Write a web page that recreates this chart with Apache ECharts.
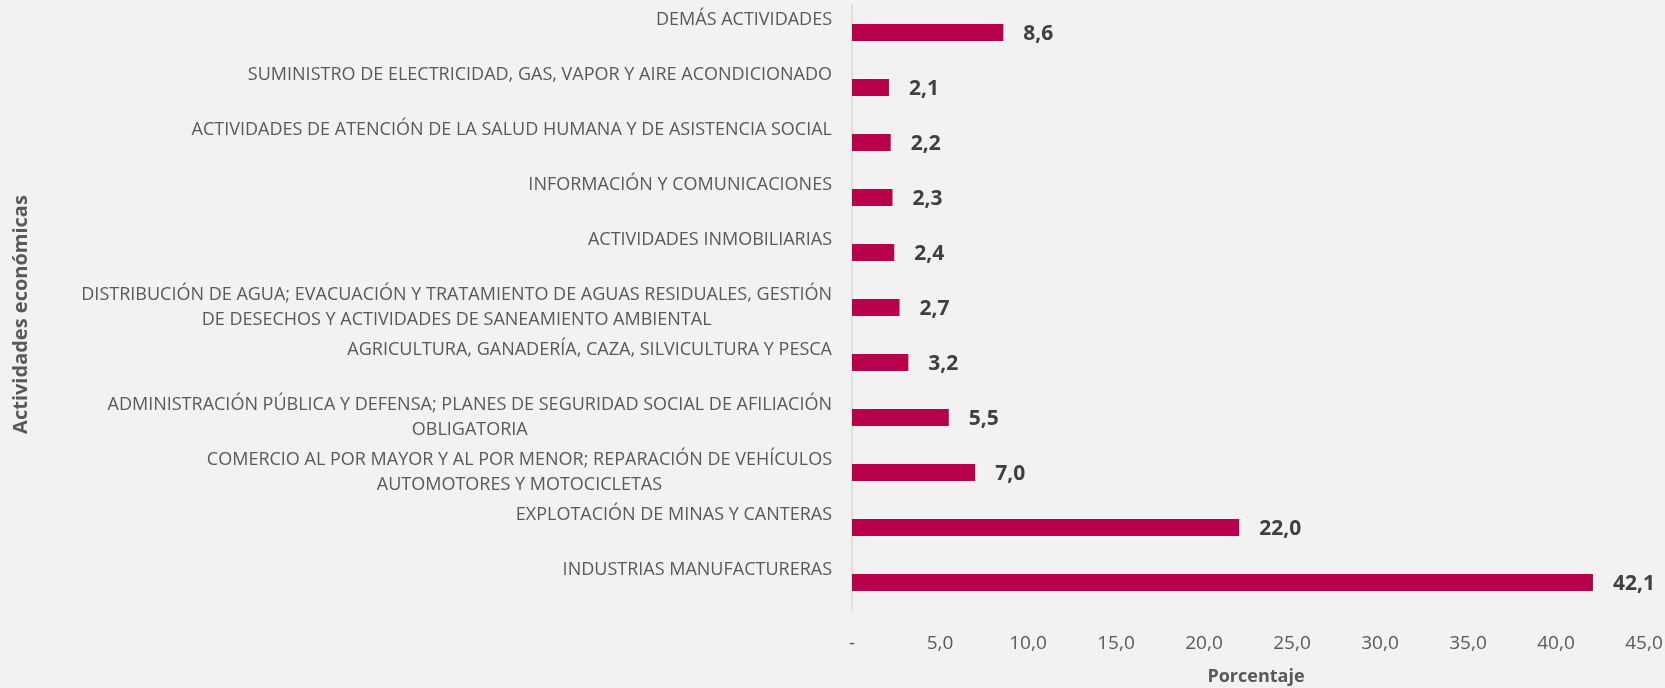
<!DOCTYPE html>
<html>
<head>
<meta charset="utf-8">
<script src="https://cdn.jsdelivr.net/npm/echarts@6/dist/echarts.min.js"></script>
<style>
  html, body { margin: 0; padding: 0; background: #f2f2f2; }
  #chart { width: 1665px; height: 688px; }
</style>
</head>
<body>
<div id="chart"></div>
<script>
// categories from top to bottom
var categories = [
  'DEMÁS ACTIVIDADES',
  'SUMINISTRO DE ELECTRICIDAD, GAS, VAPOR Y AIRE ACONDICIONADO',
  'ACTIVIDADES DE ATENCIÓN DE LA SALUD HUMANA Y DE ASISTENCIA SOCIAL',
  'INFORMACIÓN Y COMUNICACIONES',
  'ACTIVIDADES INMOBILIARIAS',
  'DISTRIBUCIÓN DE AGUA; EVACUACIÓN Y TRATAMIENTO DE AGUAS RESIDUALES, GESTIÓN\nDE DESECHOS Y ACTIVIDADES DE SANEAMIENTO AMBIENTAL',
  'AGRICULTURA, GANADERÍA, CAZA, SILVICULTURA Y PESCA',
  'ADMINISTRACIÓN PÚBLICA Y DEFENSA; PLANES DE SEGURIDAD SOCIAL DE AFILIACIÓN\nOBLIGATORIA',
  'COMERCIO AL POR MAYOR Y AL POR MENOR; REPARACIÓN DE VEHÍCULOS\nAUTOMOTORES Y MOTOCICLETAS',
  'EXPLOTACIÓN DE MINAS Y CANTERAS',
  'INDUSTRIAS MANUFACTURERAS'
];
var porcentaje = [8.6, 2.1, 2.2, 2.3, 2.4, 2.7, 3.2, 5.5, 7.0, 22.0, 42.1];

var xMin = 0, xMax = 45, xStep = 5;

function fmt(v) {
  return v.toFixed(1).replace('.', ',');
}

var chart = echarts.init(document.getElementById('chart'));
chart.setOption({
  backgroundColor: '#f2f2f2',
  textStyle: { fontFamily: 'Open Sans' },
  grid: { left: 852, right: 21, top: 5, bottom: 78, outerBoundsMode: 'none', containLabel: false },
  xAxis: {
    type: 'value',
    min: xMin,
    max: xMax,
    interval: xStep,
    name: 'Porcentaje',
    nameLocation: 'middle',
    nameGap: 58,
    nameTextStyle: { fontSize: 18, fontWeight: 'bold', color: '#595959', padding: [0, 0, 0, 16] },
    axisLine: { show: false },
    axisTick: { show: false },
    splitLine: { show: false },
    axisLabel: {
      margin: 24,
      fontSize: 19,
      color: '#595959',
      formatter: function (v) { return v === 0 ? '-' : fmt(v); }
    }
  },
  yAxis: {
    type: 'category',
    inverse: true,
    data: categories,
    name: 'Actividades económicas',
    nameLocation: 'middle',
    nameGap: 821,
    nameTextStyle: { fontSize: 20, fontWeight: 'bold', color: '#595959', padding: [0, 14, 0, 0] },
    axisLine: { show: true, lineStyle: { color: '#d9d9d9', width: 1.5 } },
    axisTick: { show: false },
    axisLabel: {
      margin: 20,
      fontSize: 18,
      color: '#595959',
      lineHeight: 25,
      verticalAlign: 'middle',
      formatter: function (name) {
        var lines = name.split('\n');
        var out = lines.map(function (l) { return '{c|' + l + '}'; }).join('\n');
        if (lines.length === 1) out += '\n{c| }';
        return out;
      },
      rich: {
        c: { align: 'center', fontSize: 18, color: '#595959', lineHeight: 25, fontFamily: 'Open Sans' }
      }
    }
  },
  series: [{
    type: 'bar',
    data: porcentaje,
    barWidth: 17,
    itemStyle: { color: '#b8004b' },
    label: {
      show: true,
      position: 'right',
      distance: 20,
      offset: [0, 2],
      fontSize: 21,
      fontWeight: 'bold',
      color: '#404040',
      formatter: function (p) { return fmt(p.value); }
    }
  }]
});
</script>
</body>
</html>
